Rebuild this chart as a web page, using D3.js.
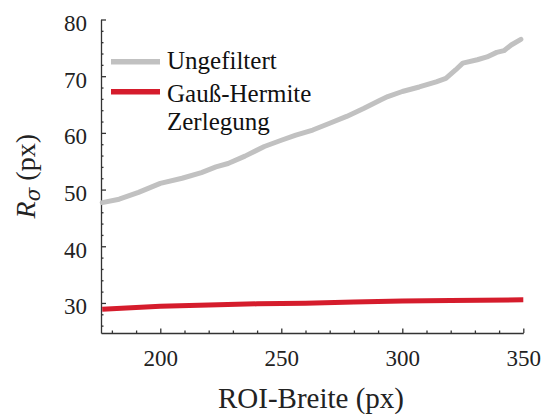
<!DOCTYPE html>
<html>
<head>
<meta charset="utf-8">
<script src="https://cdn.jsdelivr.net/npm/d3@7"></script>
<style>
  html, body { margin: 0; padding: 0; background: #fff; }
  svg { display: block; }
</style>
</head>
<body>
<svg id="chart" width="545" height="414"></svg>
<script>
// ROI width (px) against fitted radius R_sigma (px)
const roiWidth = [176, 183, 191, 200, 209, 217, 223, 228, 235, 243, 250, 256, 263, 270, 277,
                  284, 291, 294, 300, 307, 314, 318, 322, 325, 331, 335, 339, 342, 345, 349];
const rawRadius = [47.7, 48.3, 49.5, 51.1, 52.0, 53.0, 54.0, 54.6, 55.9, 57.6, 58.7, 59.6, 60.5, 61.7, 62.9,
                   64.3, 65.8, 66.4, 67.3, 68.1, 69.0, 69.6, 71.1, 72.3, 72.9, 73.4, 74.2, 74.5, 75.5, 76.5];

const ghWidth  = [176, 190, 200, 220, 240, 260, 280, 300, 320, 350];
const ghRadius = [28.9, 29.2, 29.4, 29.65, 29.85, 29.95, 30.15, 30.35, 30.45, 30.55];

const seriesNames = ["Ungefiltert", "Gauß-Hermite Zerlegung"];
const seriesColors = ["#c1c1c1", "#d51c2c"];

const xTicks = [200, 250, 300, 350];
const xMinor = [180, 190, 210, 220, 230, 240, 260, 270, 280, 290, 310, 320, 330, 340];
const yTicks = [30, 40, 50, 60, 70, 80];
const yMinor = [26, 28, 32, 34, 36, 38, 42, 44, 46, 48, 52, 54, 56, 58, 62, 64, 66, 68, 72, 74, 76, 78];

const FONT = '"Liberation Serif"';
const svg = d3.select("#chart");
const plot = { left: 101, right: 523.3, top: 19.5, bottom: 333 };

const x = d3.scaleLinear().domain([175.5, 350]).range([plot.left, plot.right]);
const y = d3.scaleLinear().domain([24.7, 80]).range([plot.bottom, plot.top]);

const axisColor = "#333";

// Axes: ticks point into the plot area, minor ticks shorter
const gx = svg.append("g").attr("transform", `translate(0,${plot.bottom})`);
gx.call(d3.axisBottom(x).tickValues(xTicks).tickSizeInner(-4.5).tickSizeOuter(0).tickFormat(d3.format("d")));
gx.selectAll(".tick text").attr("y", 33).attr("dy", 0);
const gxm = svg.append("g").attr("transform", `translate(0,${plot.bottom})`);
gxm.call(d3.axisBottom(x).tickValues(xMinor).tickSizeInner(-2.5).tickSizeOuter(0).tickFormat(""));
gxm.select(".domain").remove();

const gy = svg.append("g").attr("transform", `translate(${plot.left},0)`);
gy.call(d3.axisLeft(y).tickValues(yTicks).tickSizeInner(-5).tickSizeOuter(0).tickPadding(14).tickFormat(d3.format("d")));
gy.selectAll(".tick text").attr("dy", 11);
const gym = svg.append("g").attr("transform", `translate(${plot.left},0)`);
gym.call(d3.axisLeft(y).tickValues(yMinor).tickSizeInner(-2.5).tickSizeOuter(0).tickFormat(""));
gym.select(".domain").remove();

svg.selectAll(".domain, .tick line").attr("stroke", axisColor).attr("stroke-width", 1.3);
svg.selectAll(".tick text").attr("font-size", 23).attr("fill", "#222");

// Data lines
const line = d3.line().x(d => x(d[0])).y(d => y(d[1]));

svg.append("path")
  .datum(roiWidth.map((w, i) => [w, rawRadius[i]]))
  .attr("d", line)
  .attr("fill", "none")
  .attr("stroke", seriesColors[0])
  .attr("stroke-width", 5)
  .attr("stroke-linecap", "round")
  .attr("stroke-linejoin", "round");

svg.append("path")
  .datum(ghWidth.map((w, i) => [w, ghRadius[i]]))
  .attr("d", line)
  .attr("fill", "none")
  .attr("stroke", seriesColors[1])
  .attr("stroke-width", 5)
  .attr("stroke-linejoin", "round");

// Legend
const legend = svg.append("g");
const legendRows = [
  { y: 61.7, color: seriesColors[0], lines: ["Ungefiltert"], base: 68.5 },
  { y: 91.7, color: seriesColors[1], lines: ["Gauß-Hermite", "Zerlegung"], base: 101.5 }
];
legendRows.forEach(r => {
  legend.append("line")
    .attr("x1", 111).attr("x2", 160)
    .attr("y1", r.y).attr("y2", r.y)
    .attr("stroke", r.color).attr("stroke-width", 5.5);
  r.lines.forEach((t, j) => {
    legend.append("text")
      .attr("x", 167).attr("y", r.base + j * 28.5)
      .attr("font-size", 25)
      .attr("fill", "#111")
      .text(t);
  });
});

// Axis titles
svg.append("text")
  .attr("x", 311)
  .attr("y", 407.5)
  .attr("text-anchor", "middle")
  .attr("font-size", 29)
  .attr("fill", "#222")
  .text("ROI-Breite (px)");

svg.selectAll("text").style("font-family", FONT);

// Rotated y title: italic R, subscript sigma, then unit
const yt = svg.append("g")
  .attr("transform", `translate(35,${(plot.top + plot.bottom) / 2}) rotate(-90)`);
const tR = yt.append("text").attr("font-size", 28).attr("font-style", "italic")
  .attr("fill", "#222").style("font-family", FONT).text("R");
const tS = yt.append("text").attr("font-size", 20).attr("font-style", "italic")
  .attr("fill", "#222").style("font-family", '"DejaVu Serif"').attr("y", 5).text("σ");
const tU = yt.append("text").attr("font-size", 28)
  .attr("fill", "#222").style("font-family", FONT).text("(px)");
const wR = tR.node().getComputedTextLength();
const wS = tS.node().getComputedTextLength();
const wU = tU.node().getComputedTextLength();
const gap = 7;
const total = wR + wS + gap + wU;
tR.attr("x", -total / 2);
tS.attr("x", -total / 2 + wR);
tU.attr("x", -total / 2 + wR + wS + gap);
</script>
</body>
</html>
